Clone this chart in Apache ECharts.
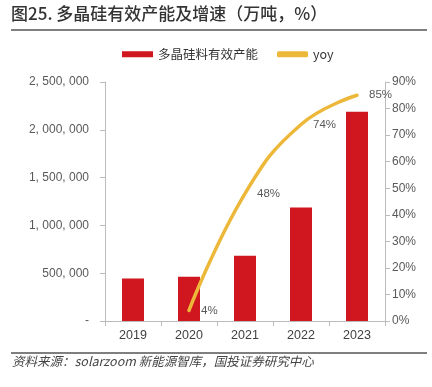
<!DOCTYPE html>
<html><head><meta charset="utf-8">
<script src="https://cdn.jsdelivr.net/npm/echarts@6/dist/echarts.min.js"></script>
<style>html,body{margin:0;padding:0;background:#fff}#c{width:432px;height:387px}</style>
</head><body><div id="c"></div>
<script>
const categories = ['2019','2020','2021','2022','2023'];
const capacity = [445000, 462000, 683000, 1188000, 2190000];
const yoy = [null, 4, 48, 74, 85];
const leftTicks = ['-', '500, 000', '1, 000, 000', '1, 500, 000', '2, 000, 000', '2, 500, 000'];

const FONT = '"Liberation Sans", Arial, "Noto Sans CJK SC", sans-serif';
const CJK = '"Noto Sans CJK SC", sans-serif';
const chart = echarts.init(document.getElementById('c'));
chart.setOption({
  animation: false,
  textStyle: {fontFamily: FONT},
  grid: {left: 105, right: 47, top: 82, bottom: 66},
  graphic: [
    {type: 'text', left: 11, top: 5, style: {text: '图25. 多晶硅有效产能及增速（万吨，%）', font: '500 17px ' + CJK, fill: '#333'}},
    {type: 'line', shape: {x1: 11, y1: 30, x2: 427, y2: 30}, style: {stroke: '#555', lineWidth: 1.5}},
    {type: 'line', shape: {x1: 11, y1: 353, x2: 427, y2: 353}, style: {stroke: '#555', lineWidth: 1.5}},
    {type: 'text', left: 12, top: 355, style: {text: '资料来源：solarzoom 新能源智库，国投证券研究中心', font: 'italic 12.5px ' + CJK, fill: '#444'}}
  ],
  legend: {
    top: 43, left: 117, itemGap: 19, itemWidth: 31, itemHeight: 6,
    textStyle: {fontSize: 12.5, color: '#333', fontFamily: CJK},
    data: [
      {name: '多晶硅料有效产能', icon: 'rect'},
      {name: 'yoy', icon: 'roundRect', itemStyle: {color: '#EDB83A', opacity: 1}}
    ]
  },
  xAxis: {
    type: 'category', data: categories,
    axisLine: {lineStyle: {color: '#bbb'}},
    axisTick: {show: true, alignWithLabel: false, length: 5, lineStyle: {color: '#bbb'}},
    axisLabel: {color: '#404040', fontSize: 12.5, margin: 8}
  },
  yAxis: [
    {
      type: 'value', min: 0, max: 2500000, interval: 500000,
      axisLine: {show: true, lineStyle: {color: '#bbb'}},
      axisTick: {show: true, length: 5, lineStyle: {color: '#bbb'}},
      splitLine: {show: false},
      axisLabel: {color: '#595959', fontSize: 12, margin: 16,
        formatter: (v) => leftTicks[Math.round(v / 500000)]}
    },
    {
      type: 'value', min: 0, max: 90, interval: 10,
      axisLine: {show: true, lineStyle: {color: '#bbb'}},
      axisTick: {show: true, length: 5, lineStyle: {color: '#bbb'}},
      splitLine: {show: false},
      axisLabel: {color: '#595959', fontSize: 12, margin: 7, formatter: '{value}%'}
    }
  ],
  series: [
    {
      name: '多晶硅料有效产能', type: 'bar', data: capacity, barWidth: 22,
      itemStyle: {color: '#D0161F'}
    },
    {
      name: 'yoy', type: 'line', yAxisIndex: 1, data: yoy, smooth: 0.45,
      symbol: 'circle', symbolSize: 2, showSymbol: true, connectNulls: false,
      lineStyle: {color: '#EDB83A', width: 3.5, cap: 'round'},
      itemStyle: {color: '#EDB83A'},
      label: {show: true, position: 'right', distance: 11, color: '#595959', fontSize: 11.5,
        formatter: (p) => p.value + '%'}
    }
  ]
});
</script></body></html>
